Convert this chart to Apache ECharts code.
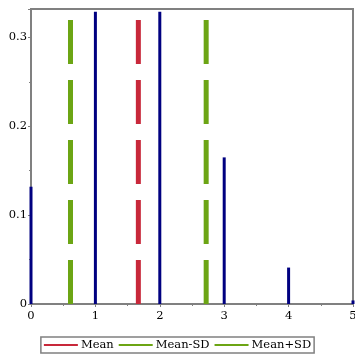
<!DOCTYPE html>
<html>
<head>
<meta charset="utf-8">
<script src="https://cdn.jsdelivr.net/npm/echarts@6/dist/echarts.min.js"></script>
<style>
html, body { margin: 0; padding: 0; background: #fff; }
#chart { width: 355px; height: 355px; }
</style>
</head>
<body>
<div id="chart"></div>
<script>
var categories = [0, 1, 2, 3, 4, 5];
var probs = [0.132, 0.329, 0.329, 0.165, 0.041, 0.004];
var meanX = 1.667;
var meanMinusSD = 0.613;
var meanPlusSD = 2.72;
var lineTop = 0.32;
var yTicks = [0, 0.1, 0.2, 0.3];

var dom = document.getElementById('chart');
var chart = echarts.init(dom);

function vline(x) {
    return [[x, 0], [x, lineTop]];
}

var font = 'DejaVu Serif';
var axisGray = '#808080';

var option = {
    animation: false,
    grid: {
        left: 31, right: 2, top: 9, bottom: 51,
        outerBoundsMode: 'none',
        containLabel: false,
        show: true,
        borderColor: axisGray,
        borderWidth: 2
    },
    legend: {
        data: ['Mean', 'Mean-SD', 'Mean+SD'],
        bottom: 2,
        left: 'center',
        icon: 'rect',
        itemWidth: 34,
        itemHeight: 2,
        itemGap: 5,
        padding: [2, 3],
        borderColor: axisGray,
        borderWidth: 1.5,
        textStyle: { fontFamily: font, fontSize: 11.5, color: '#000', padding: [0, 0, 0, -2] }
    },
    xAxis: {
        type: 'value',
        min: 0, max: 5, interval: 1,
        axisLine: { lineStyle: { color: axisGray, width: 2 } },
        axisTick: { show: true, length: 3, lineStyle: { color: axisGray } },
        minorTick: { show: true, splitNumber: 2, length: 2, lineStyle: { color: axisGray } },
        splitLine: { show: false },
        axisLabel: { fontFamily: font, fontSize: 11.5, color: '#000', margin: 6, showMaxLabel: true, hideOverlap: false }
    },
    yAxis: {
        type: 'value',
        min: 0, max: 0.332, interval: 0.1,
        axisLine: { show: true, lineStyle: { color: axisGray, width: 2 } },
        axisTick: { show: true, length: 3, lineStyle: { color: axisGray } },
        minorTick: { show: true, splitNumber: 2, length: 2, lineStyle: { color: axisGray } },
        splitLine: { show: false },
        axisLabel: {
            fontFamily: font, fontSize: 11.5, color: '#000', margin: 4,
            showMaxLabel: false,
            formatter: function (v) {
                for (var i = 0; i < yTicks.length; i++) {
                    if (Math.abs(v - yTicks[i]) < 1e-9) return String(yTicks[i]);
                }
                return '';
            }
        }
    },
    series: [
        {
            name: 'P',
            type: 'bar',
            barWidth: 3,
            clip: false,
            data: categories.map(function (c, i) { return [c, probs[i]]; }),
            itemStyle: { color: '#000080' },
            z: 3
        },
        {
            name: 'Mean',
            type: 'line',
            data: vline(meanX),
            symbol: 'none',
            lineStyle: { color: '#c8283a', width: 5, type: [44, 16], cap: 'butt' },
            itemStyle: { color: '#c8283a' }
        },
        {
            name: 'Mean-SD',
            type: 'line',
            data: vline(meanMinusSD),
            symbol: 'none',
            lineStyle: { color: '#6ca514', width: 5, type: [44, 16], cap: 'butt' },
            itemStyle: { color: '#6ca514' }
        },
        {
            name: 'Mean+SD',
            type: 'line',
            data: vline(meanPlusSD),
            symbol: 'none',
            lineStyle: { color: '#6ca514', width: 5, type: [44, 16], cap: 'butt' },
            itemStyle: { color: '#6ca514' }
        }
    ]
};

chart.setOption(option);
</script>
</body>
</html>
